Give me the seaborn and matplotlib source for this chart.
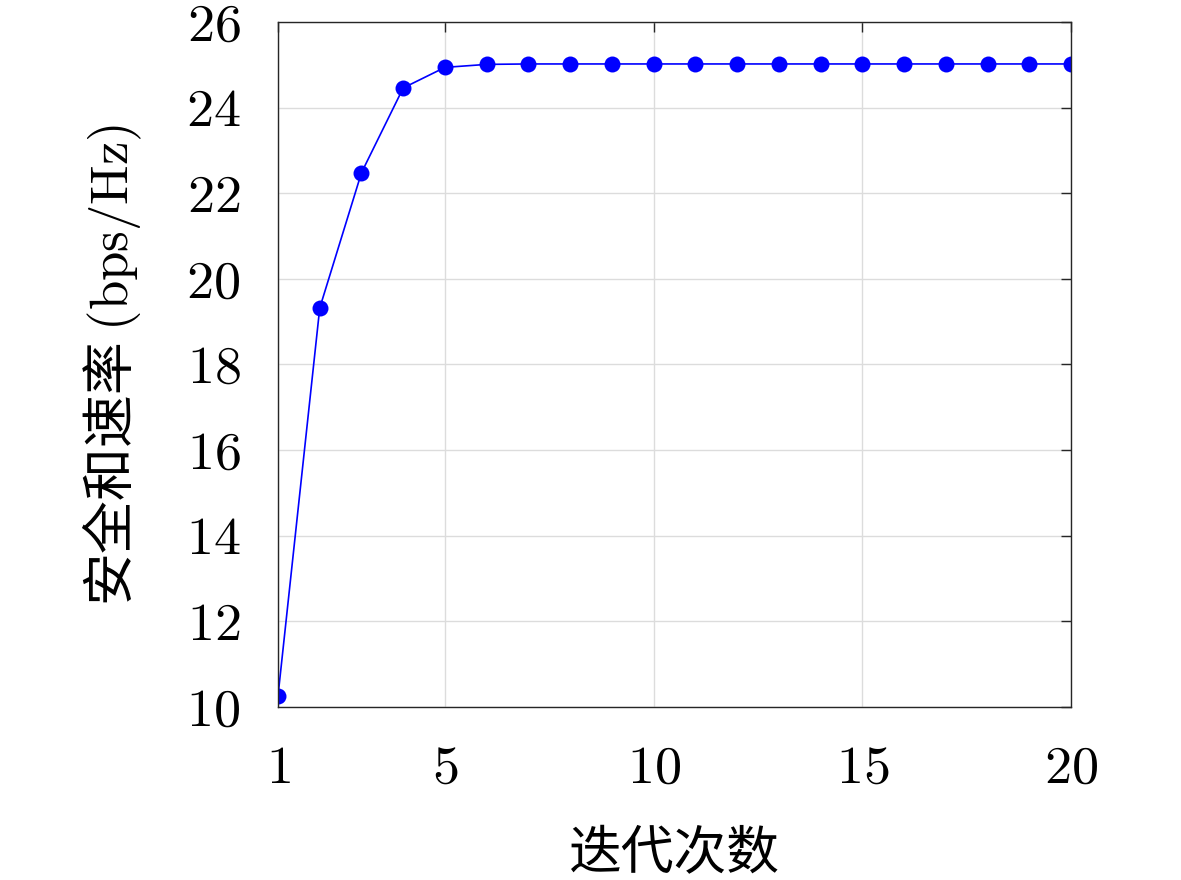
import matplotlib
matplotlib.use("Agg")
import matplotlib.pyplot as plt
import seaborn as sns
import pandas as pd

iterations = list(range(1, 21))
rate = [10.26, 19.32, 22.48, 24.46, 24.94, 25.01, 25.02, 25.02, 25.02, 25.02,
        25.02, 25.02, 25.02, 25.02, 25.02, 25.02, 25.02, 25.02, 25.02, 25.02]
xticks = [1, 5, 10, 15, 20]
yticks = [10, 12, 14, 16, 18, 20, 22, 24, 26]

sns.set_theme(style="white")
plt.rcParams['font.family'] = ['cmr10', 'Noto Sans CJK SC', 'DejaVu Sans']
plt.rcParams['mathtext.fontset'] = 'cm'
plt.rcParams['axes.formatter.use_mathtext'] = True

fig = plt.figure(figsize=(11.81, 8.8), dpi=100)
ax = fig.add_axes([0.2354, 0.1966, 0.9069 - 0.2354, 0.975 - 0.1966])

df = pd.DataFrame({"x": iterations, "y": rate})
sns.lineplot(data=df, x="x", y="y", ax=ax, color="#0000ff", marker="o",
             markersize=11.5, markeredgewidth=0, linewidth=1.2)

ax.set_xlim(1, 20)
ax.set_ylim(10, 26)
ax.set_xticks(xticks)
ax.set_yticks(yticks)
ax.set_xticklabels([f"${t}$" for t in xticks])
ax.set_yticklabels([f"${t}$" for t in yticks])
ax.tick_params(direction="in", length=7, width=1, colors="#262626",
               labelsize=39, top=True, right=True)
ax.tick_params(axis="y", pad=27)
ax.tick_params(axis="x", pad=28)
for lab in ax.get_xticklabels() + ax.get_yticklabels():
    lab.set_color("black")
ax.grid(True, color="#dcdcdc", linewidth=1)
for s in ax.spines.values():
    s.set_color("#262626")
    s.set_linewidth(1)

ax.set_xlabel("迭代次数", fontsize=38, family=['Noto Sans CJK SC'], labelpad=24, color="black")
ax.set_ylabel("安全和速率 $\\mathrm{(bps/Hz)}$", fontsize=38,
              family=['Noto Sans CJK SC'], labelpad=30, color="black")

fig.savefig("out.png", dpi=100)
